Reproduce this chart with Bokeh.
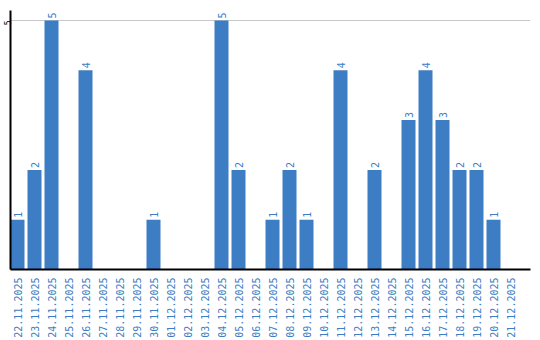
import math
from bokeh.plotting import figure
from bokeh.models import ColumnDataSource, FixedTicker, Range1d
from bokeh.core.properties import value
from bokeh.embed import file_html
from bokeh.resources import INLINE

dates = ["22.11.2025", "23.11.2025", "24.11.2025", "25.11.2025", "26.11.2025",
         "27.11.2025", "28.11.2025", "29.11.2025", "30.11.2025", "01.12.2025",
         "02.12.2025", "03.12.2025", "04.12.2025", "05.12.2025", "06.12.2025",
         "07.12.2025", "08.12.2025", "09.12.2025", "10.12.2025", "11.12.2025",
         "12.12.2025", "13.12.2025", "14.12.2025", "15.12.2025", "16.12.2025",
         "17.12.2025", "18.12.2025", "19.12.2025", "20.12.2025", "21.12.2025"]
counts = [1, 2, 5, 0, 4, 0, 0, 0, 1, 0, 0, 0, 5, 2, 0, 1, 2, 1, 0, 4,
          0, 2, 0, 3, 4, 3, 2, 2, 1, 0]
y_ticks = [5]

BLUE = "#3c7dc4"
STEP = 17.0
BARW = 14.0 / STEP
centers = [i + BARW / 2 for i in range(len(dates))]

src = ColumnDataSource(dict(x=centers, top=counts))
lbl_idx = [i for i, c in enumerate(counts) if c > 0]
lsrc = ColumnDataSource(dict(x=[centers[i] for i in lbl_idx],
                             y=[counts[i] for i in lbl_idx],
                             t=[str(counts[i]) for i in lbl_idx]))

p = figure(width=544, height=340, output_backend="svg", toolbar_location=None,
           x_range=Range1d(0, 520 / STEP), y_range=Range1d(0, 5.2),
           min_border_left=14, min_border_right=10, min_border_top=10,
           min_border_bottom=10, margin=(0, 0, 0, -4))
p.outline_line_color = None
p.background_fill_color = "white"
p.border_fill_color = "white"

p.vbar(x="x", top="top", width=BARW, bottom=0, source=src,
       fill_color=BLUE, line_color=None)

p.text(x="x", y="y", text="t", source=lsrc, angle=math.pi / 2,
       text_align="left", text_baseline="middle", y_offset=-2,
       text_color=BLUE, text_font=value("DejaVu Sans Mono"),
       text_font_size="10px")

p.xaxis.ticker = FixedTicker(ticks=centers)
p.xaxis.major_label_overrides = {c: d for c, d in zip(centers, dates)}
p.xaxis.major_label_orientation = math.pi / 2
p.xaxis.major_label_text_color = BLUE
p.xaxis.major_label_text_font = "DejaVu Sans Mono"
p.xaxis.major_label_text_font_size = "10px"
p.xaxis.major_tick_line_color = None
p.xaxis.minor_tick_line_color = None
p.xaxis.major_tick_out = 0
p.xaxis.major_label_standoff = 8
p.xaxis.axis_line_color = "black"
p.xaxis.axis_line_width = 2

p.yaxis.ticker = FixedTicker(ticks=y_ticks)
p.yaxis.major_label_orientation = math.pi / 2
p.yaxis.major_label_text_font = "DejaVu Sans Mono"
p.yaxis.major_label_text_font_size = "8px"
p.yaxis.major_label_text_color = "black"
p.yaxis.major_tick_line_color = None
p.yaxis.minor_tick_line_color = None
p.yaxis.major_tick_out = 0
p.yaxis.major_tick_in = 0
p.yaxis.major_label_standoff = 3
p.yaxis.axis_line_color = "black"
p.yaxis.axis_line_width = 2

p.xgrid.grid_line_color = None
p.ygrid.ticker = FixedTicker(ticks=y_ticks)
p.ygrid.grid_line_color = "#c8c8c8"
p.ygrid.grid_line_width = 1

open("out.html", "w").write(file_html(p, INLINE))
